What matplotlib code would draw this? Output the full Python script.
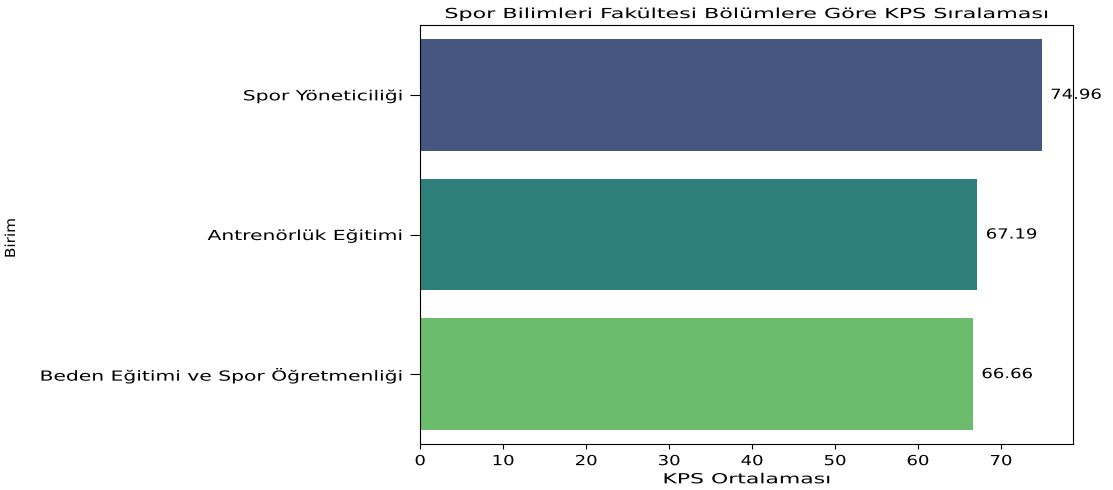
import matplotlib.pyplot as plt
from matplotlib.patheffects import AbstractPathEffect
from matplotlib.transforms import Affine2D

bolumler = ["Spor Yöneticiliği", "Antrenörlük Eğitimi", "Beden Eğitimi ve Spor Öğretmenliği"]
kps_ort = [74.96, 67.19, 66.66]
renkler = ["#455681", "#2e7f7a", "#6cbc6e"]
xticks = [0, 10, 20, 30, 40, 50, 60, 70]


# the reference text looks stretched sideways, so widen glyphs in place
class Stretch(AbstractPathEffect):
    def __init__(self, sx, ha="left"):
        super().__init__()
        self.sx = sx
        self.ha = ha

    def draw_path(self, renderer, gc, tpath, affine, rgbFace=None):
        w = tpath.get_extents().x1
        shift = {"left": 0, "center": -(self.sx - 1) * w / 2, "right": -(self.sx - 1) * w}[self.ha]
        t = Affine2D().scale(self.sx, 1).translate(shift, 0) + affine
        renderer.draw_path(gc, tpath, t, rgbFace)


fig = plt.figure(figsize=(11.13, 4.9), dpi=100)
ax = fig.add_axes([420 / 1113, 1 - 444 / 490, 653 / 1113, 419 / 490])

y = range(len(bolumler))
ax.barh(y, kps_ort, height=0.8, color=renkler)
ax.set_yticks(list(y))
ax.set_yticklabels(bolumler, fontsize=10)
ax.set_xticks(xticks)
ax.set_xticklabels([str(t) for t in xticks], fontsize=10)
ax.set_ylim(len(bolumler) - 0.5, -0.5)
ax.set_xlim(0, max(kps_ort) * 1.05)
ax.tick_params(axis="y", length=7.5, pad=5)
ax.tick_params(axis="x", length=3.3, pad=4)

for lbl in ax.get_yticklabels():
    lbl.set_path_effects([Stretch(1.46, "right")])
for lbl in ax.get_xticklabels():
    lbl.set_path_effects([Stretch(1.3, "center")])

for i, v in enumerate(kps_ort):
    t = ax.text(v + 1, i, f"{v:.2f}", va="center", ha="left", fontsize=10, zorder=1)
    t.set_path_effects([Stretch(1.3, "left")])

ttl = ax.set_title("Spor Bilimleri Fakültesi Bölümlere Göre KPS Sıralaması", fontsize=10, pad=5)
ttl.set_path_effects([Stretch(1.6, "center")])
xl = ax.set_xlabel("KPS Ortalaması", fontsize=10, labelpad=3)
xl.set_path_effects([Stretch(1.58, "center")])

bl = fig.text(11 / 1113, 1 - 238 / 490, "Birim", rotation=90, ha="center", va="center", fontsize=10)
bl.set_path_effects([Stretch(1.1, "center")])

fig.savefig("out.png", dpi=100)
